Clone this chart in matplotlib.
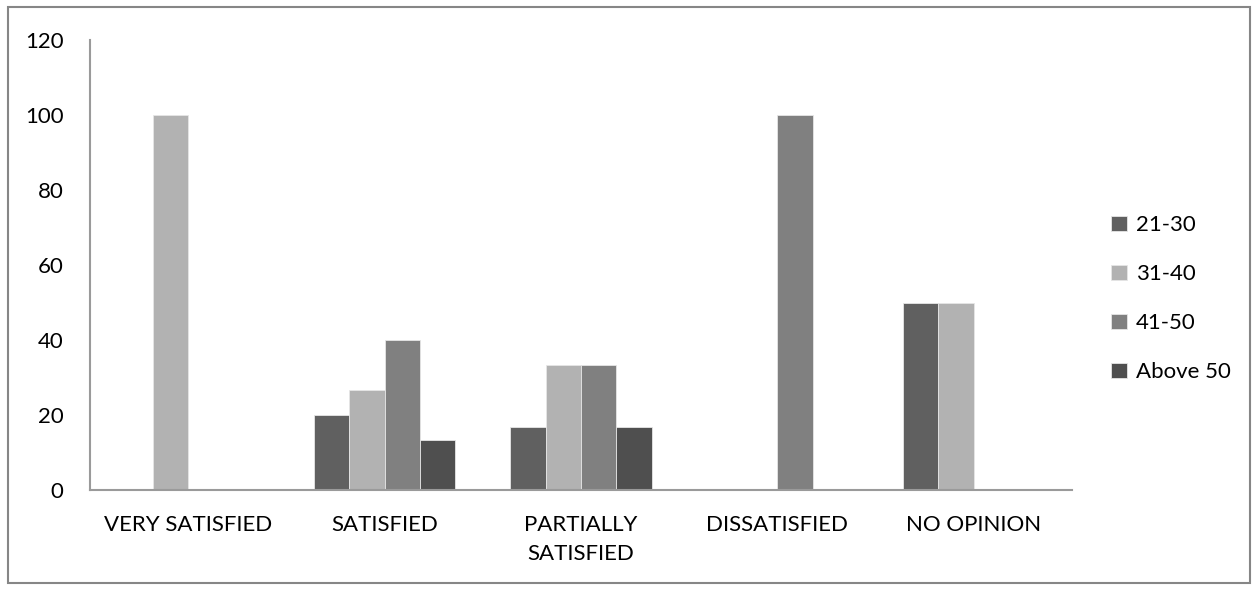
import numpy as np
import matplotlib.pyplot as plt
from matplotlib.patches import Rectangle

plt.rcParams['font.family'] = ['Lato', 'DejaVu Sans']

categories = ['VERY SATISFIED', 'SATISFIED', 'PARTIALLY\nSATISFIED', 'DISSATISFIED', 'NO OPINION']
series = ['21-30', '31-40', '41-50', 'Above 50']
age_21_30 = [0, 20, 16.67, 0, 50]
age_31_40 = [100, 26.67, 33.33, 0, 50]
age_41_50 = [0, 40, 33.33, 100, 0]
above_50 = [0, 13.33, 16.67, 0, 0]
colors = ['#606060', '#b2b2b2', '#808080', '#4f4f4f']

fig = plt.figure(figsize=(12.58, 5.90), dpi=100)
fig.patches.append(Rectangle((0.006, 0.012), 0.988, 0.976, transform=fig.transFigure,
                             fill=False, edgecolor='#868686', linewidth=1.5))

ax = fig.add_axes([0.0715, 0.1695, 0.7805, 0.7625])
x = np.arange(len(categories)) + 0.5
width = 0.18
for i, (name, vals) in enumerate(zip(series, [age_21_30, age_31_40, age_41_50, above_50])):
    ax.bar(x + (i - 1.5) * width, vals, width, color=colors[i], label=name,
           edgecolor='#e6e6e6', linewidth=0.6)

fs = 16
ax.set_xlim(0, len(categories))
ax.set_ylim(0, 120)
ax.set_yticks(range(0, 121, 20))
ax.set_xticks(x)
ax.set_xticklabels(categories, fontsize=fs, linespacing=1.55)
ax.tick_params(axis='y', labelsize=fs, length=0, pad=19)
ax.tick_params(axis='x', length=0, pad=18)
for s in ['top', 'right']:
    ax.spines[s].set_visible(False)
for s in ['left', 'bottom']:
    ax.spines[s].set_color('#9a9a9a')
    ax.spines[s].set_linewidth(1.5)

ax.legend(loc='center left', bbox_to_anchor=(1.02, 0.425), frameon=False, fontsize=fs,
          handlelength=0.7, handleheight=0.7, handletextpad=0.4, labelspacing=1.3)

fig.savefig('out.png', dpi=100)
